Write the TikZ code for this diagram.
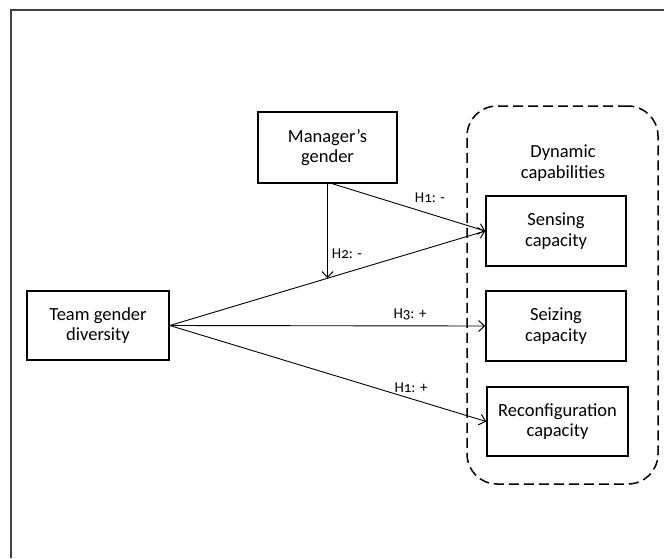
\documentclass[tikz,border=0pt]{standalone}
\usepackage{fontspec}
\setmainfont{Carlito}[Numbers=OldStyle]
\usetikzlibrary{arrows.meta,calc}
\begin{document}
\begin{tikzpicture}[x=1pt,y=-1pt,
  box/.style={draw,line width=1.5pt,align=center,inner sep=0pt,
    font=\fontsize{18.5}{20.5}\selectfont},
  lbl/.style={inner sep=0pt,font=\fontsize{15}{17}\selectfont},
  arr/.style={line width=0.9pt,-{Straight Barb[length=6pt,width=11pt,line width=1pt]}},
  frameline/.style={draw=black!75,line width=1.4pt}]
\useasboundingbox (0,0) rectangle (664,558);
\draw[frameline] (11,558) -- (11,10) -- (664,10);
\node[draw,dashed,dash pattern=on 10pt off 5pt,line width=1.5pt,rounded corners=30pt,
  minimum width=191pt,minimum height=378pt,inner sep=0pt] (dc) at (562.5,295) {};
\node[align=center,inner sep=0pt,font=\fontsize{18.5}{20.5}\selectfont] (dct) at (563,163) {Dynamic\\capabilities};
\node[box,minimum width=139pt,minimum height=71pt] (mg) at (327.5,147.5) {Manager’s\\gender};
\node[box,minimum width=142pt,minimum height=69pt] (tg) at (98,325.5) {Team gender\\diversity};
\node[box,minimum width=140pt,minimum height=70pt] (sens) at (556,231) {Sensing\\capacity};
\node[box,minimum width=140pt,minimum height=70pt] (seiz) at (556,326) {Seizing\\capacity};
\node[box,minimum width=141pt,minimum height=69pt] (reco) at (557.5,421.5) {Reconfiguration\\capacity};
\coordinate (m) at ($(tg.east)!0.5!(sens.west)$);
\draw[arr] ($(mg.south)+(5,0)$) -- (sens.west);
\draw[arr] (mg.south) -- (m);
\draw[arr] (tg.east) -- (sens.west);
\draw[arr] (tg.east) -- (seiz.west);
\draw[arr] (tg.east) -- (reco.west);
\node[lbl] (l1) at (430,198) {H1: -};
\node[lbl] (l2) at (347,254) {H2: -};
\node[lbl] (l3) at (410,314) {H3: +};
\node[lbl] (l4) at (411,388) {H1: +};
\end{tikzpicture}
\end{document}
